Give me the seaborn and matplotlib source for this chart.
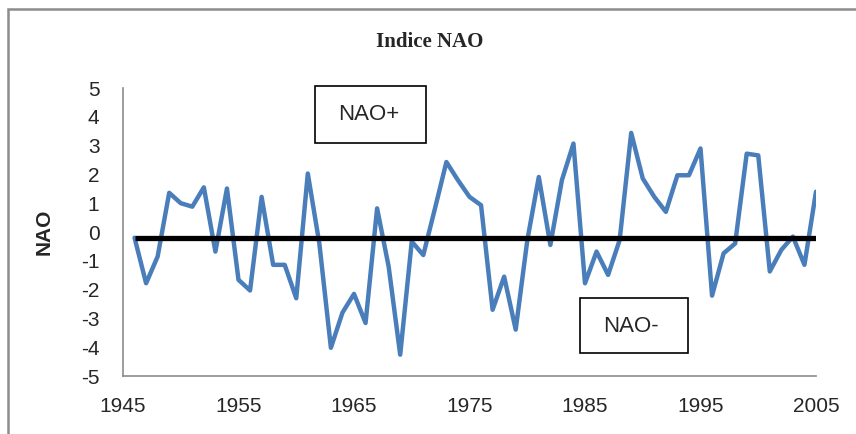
import pandas as pd
import matplotlib
matplotlib.use("Agg")
import matplotlib.pyplot as plt
from matplotlib.patches import Rectangle
import seaborn as sns

# annual NAO index values
years = list(range(1946, 2006))
nao = [
    -0.2, -1.78, -0.85, 1.36, 1.0, 0.88, 1.55, -0.68, 1.51, -1.66,
    -2.03, 1.22, -1.14, -1.14, -2.3, 2.03, -0.4, -4.02, -2.8, -2.15,
    -3.16, 0.82, -1.2, -4.26, -0.33, -0.8, 0.8, 2.43, 1.8, 1.22,
    0.93, -2.7, -1.55, -3.39, -0.3, 1.91, -0.45, 1.8, 3.07, -1.78,
    -0.68, -1.49, -0.28, 3.44, 1.86, 1.22, 0.7, 1.97, 1.97, 2.9,
    -2.21, -0.74, -0.4, 2.72, 2.66, -1.37, -0.62, -0.16, -1.14, 1.4,
]
mean_level = -0.2
x_ticks = [1945, 1955, 1965, 1975, 1985, 1995, 2005]
y_ticks = [5, 4, 3, 2, 1, 0, -1, -2, -3, -4, -5]

sns.set_theme(style="white")
plt.rcParams['font.family'] = ['Liberation Sans', 'DejaVu Sans']
plt.rcParams['axes.unicode_minus'] = False

W, H = 856, 434
fig = plt.figure(figsize=(W / 100, H / 100), dpi=100)
ax = fig.add_axes([123 / W, 1 - 376 / H, 693 / W, 288 / H])

df = pd.DataFrame({'year': years, 'nao': nao})
sns.lineplot(data=df, x='year', y='nao', ax=ax, color='#4A7EBB',
             linewidth=3.2, solid_joinstyle='round', solid_capstyle='round')
ax.hlines(mean_level, years[0], years[-1], color='black', linewidth=3.8, zorder=5)

ax.set_xlim(1945, 2005)
ax.set_ylim(-5, 5)
ax.set_xticks(x_ticks)
ax.set_yticks(y_ticks)
ax.tick_params(axis='x', length=0, pad=15, labelsize=15)
ax.tick_params(axis='y', length=0, pad=17, labelsize=15)
ax.set_xlabel('')
ax.set_ylabel('NAO', fontsize=15, fontweight='bold')
ax.yaxis.set_label_coords(-0.1, 0.5)

for side in ['top', 'right']:
    ax.spines[side].set_visible(False)
for side in ['left', 'bottom']:
    ax.spines[side].set_color('#8C8C8C')
    ax.spines[side].set_linewidth(1.2)
ax.grid(False)

# outer chart frame (cut off at right and bottom)
fig.add_artist(Rectangle((8 / W, -0.05), 1.0, 1.05 - 9 / H, transform=fig.transFigure,
                         fill=False, edgecolor='#8C8C8C', linewidth=1.8))

fig.text(430 / W, 1 - 42 / H, 'Indice NAO', ha='center', va='center',
         fontsize=15, fontweight='bold', family=['Liberation Serif', 'DejaVu Serif'])

# annotation boxes
fig.add_artist(Rectangle((315 / W, 1 - 143 / H), 111 / W, 57 / H, transform=fig.transFigure,
                         fill=True, facecolor='white', edgecolor='black', linewidth=1.2, zorder=6))
fig.text(369 / W, 1 - 115 / H, 'NAO+', ha='center', va='center', fontsize=16, zorder=7)
fig.add_artist(Rectangle((580 / W, 1 - 353 / H), 108 / W, 55 / H, transform=fig.transFigure,
                         fill=True, facecolor='white', edgecolor='black', linewidth=1.2, zorder=6))
fig.text(631 / W, 1 - 326 / H, 'NAO-', ha='center', va='center', fontsize=16, zorder=7)

fig.savefig('out.png', dpi=100)
